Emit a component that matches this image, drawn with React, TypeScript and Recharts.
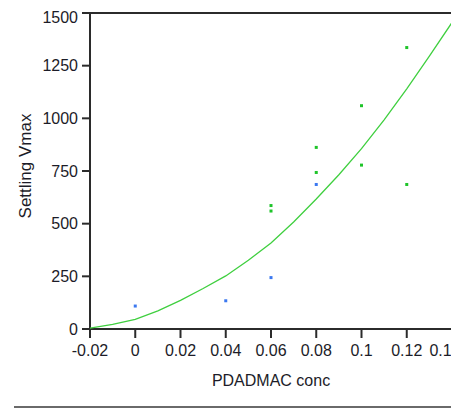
import {ScatterChart, Scatter, XAxis, YAxis, ReferenceArea, Label} from 'recharts';

// measured settling velocity by polymer dose
const blueRuns = [
    {x: 0, y: 109},
    {x: 0.04, y: 134},
    {x: 0.06, y: 244},
    {x: 0.08, y: 686},
];

const greenRuns = [
    {x: 0.06, y: 586},
    {x: 0.06, y: 560},
    {x: 0.08, y: 862},
    {x: 0.08, y: 743},
    {x: 0.1, y: 1060},
    {x: 0.1, y: 778},
    {x: 0.12, y: 1336},
    {x: 0.12, y: 686},
];

// fitted curve
const fitConc = [-0.02, -0.01, 0, 0.01, 0.02, 0.03, 0.04, 0.05, 0.06, 0.07, 0.08, 0.09, 0.1, 0.11, 0.12, 0.13, 0.14];
const fitVmax = [4, 22, 46, 86, 136, 192, 252, 326, 408, 508, 617, 732, 856, 993, 1140, 1295, 1455];
const fitCurve = fitConc.map((x, i) => ({x, y: fitVmax[i]}));

const xTicks = [-0.02, 0, 0.02, 0.04, 0.06, 0.08, 0.1, 0.12, 0.14];
const yTicks = [0, 250, 500, 750, 1000, 1250, 1500];

const ink = '#2b2b2b';
const textInk = '#1c1c28';
const font = '"Liberation Sans", Arial, sans-serif';

const square = (color: string) => (props: any) => (
    <rect x={props.cx - 1.5} y={props.cy - 1.5} width={3} height={3} fill={color}/>
);

export default function App() {
    return (
        <div style={{position: 'relative', width: 451, height: 401, fontFamily: font}}>
            <ScatterChart width={451} height={401} margin={{top: 5, right: 7, left: 0, bottom: 0}}>
                <ReferenceArea x1={-0.02} x2={0.14} y1={0} y2={1500} fill="none" stroke={ink} strokeWidth={2}/>
                <XAxis type="number" dataKey="x" domain={[-0.02, 0.14]} ticks={xTicks} height={80}
                       allowDataOverflow stroke={ink} strokeWidth={2} tickSize={9} tickMargin={7}
                       tick={{fill: textInk, fontSize: 16, fontFamily: font}}>
                    <Label value="PDADMAC conc" position="insideTop" offset={46}
                           style={{fill: textInk, fontSize: 16, fontFamily: font}}/>
                </XAxis>
                <YAxis type="number" dataKey="y" domain={[0, 1500]} ticks={yTicks} width={82}
                       allowDataOverflow stroke={ink} strokeWidth={2} tickSize={8} tickMargin={4}
                       tick={{fill: textInk, fontSize: 16, fontFamily: font}}>
                    <Label value="Settling Vmax" angle={-90} position="insideLeft" offset={17} dy={-5}
                           style={{fill: textInk, fontSize: 17, fontFamily: font, textAnchor: 'middle'}}/>
                </YAxis>
                <Scatter data={fitCurve} line={{stroke: '#3fcf3f', strokeWidth: 1.3}} lineType="joint"
                         shape={() => <g/>} isAnimationActive={false}/>
                <Scatter data={blueRuns} shape={square('#3b78f0')} isAnimationActive={false}/>
                <Scatter data={greenRuns} shape={square('#1fc42a')} isAnimationActive={false}/>
            </ScatterChart>
            <div style={{position: 'absolute', left: 6, top: 398, width: 445, height: 2, background: '#6a6a6a'}}/>
        </div>
    );
}
